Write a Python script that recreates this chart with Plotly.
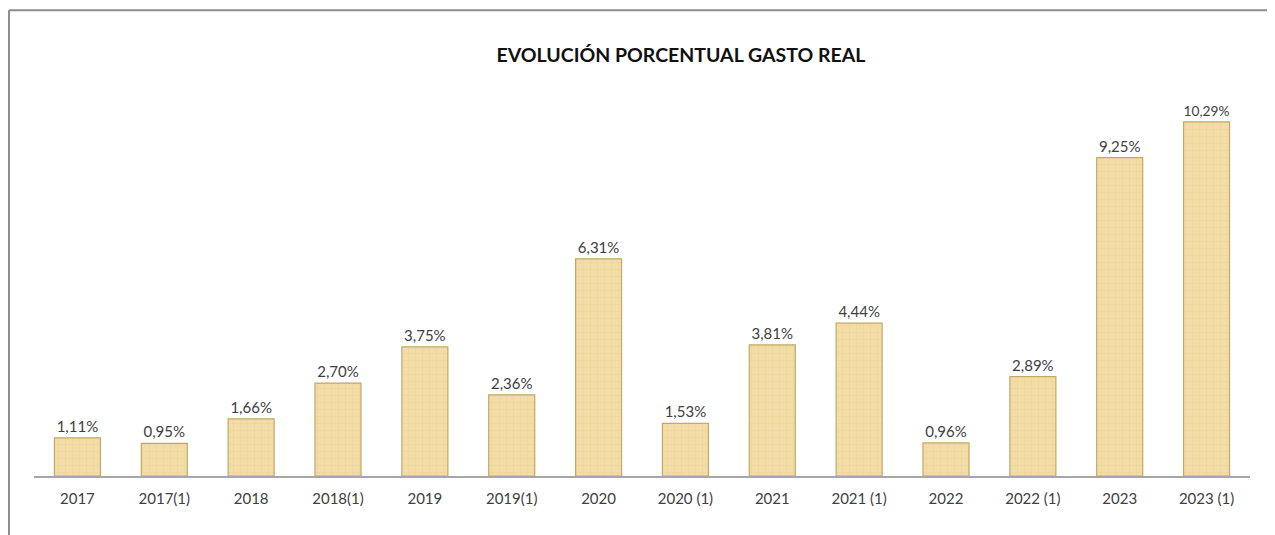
import plotly.graph_objects as go

categories = ["2017", "2017(1)", "2018", "2018(1)", "2019", "2019(1)", "2020",
              "2020 (1)", "2021", "2021 (1)", "2022", "2022 (1)", "2023", "2023 (1)"]
values = [1.11, 0.95, 1.66, 2.70, 3.75, 2.36, 6.31, 1.53, 3.81, 4.44, 0.96, 2.89, 9.25, 10.29]
labels = [f"{v:.2f}".replace(".", ",") + "%" for v in values]

fig = go.Figure(go.Bar(
    x=categories, y=values, text=labels, textposition="outside",
    textfont=dict(size=15, color="#404040", family="Lato"),
    cliponaxis=False,
    width=0.53,
    marker=dict(
        color="#F3DDA6",
        line=dict(color="#C4A866", width=1.2),
        pattern=dict(shape="+", fgcolor="#E3C888", bgcolor="#F3DDA6", size=7, solidity=0.15),
    ),
))

fig.update_layout(
    width=1275, height=535,
    margin=dict(l=26, r=33, t=55, b=67),
    paper_bgcolor="white", plot_bgcolor="white",
    showlegend=False,
    title=dict(text="<b>EVOLUCIÓN PORCENTUAL GASTO REAL</b>",
               x=0.532, xanchor="center", xref="paper",
               y=1 - 47 / 535, yanchor="middle", yref="container",
               font=dict(size=19.5, color="#111111", family="Lato")),
    xaxis=dict(showline=True, linecolor="#a6a6a6", linewidth=1.5, ticks="",
               tickfont=dict(size=15, color="#404040", family="Lato"),
               ticklabelstandoff=8, showgrid=False),
    yaxis=dict(range=[0, 12], visible=False, showgrid=False),
    bargap=0.47,
    shapes=[
        dict(type="line", xref="paper", yref="paper", x0=-0.0206, x1=1.04, y0=1.128, y1=1.128,
             line=dict(color="#8c8c8c", width=2)),
        dict(type="line", xref="paper", yref="paper", x0=-0.0206, x1=-0.0206, y0=1.128, y1=-0.2,
             line=dict(color="#8c8c8c", width=2)),
    ],
)

fig.write_html("out.html")
